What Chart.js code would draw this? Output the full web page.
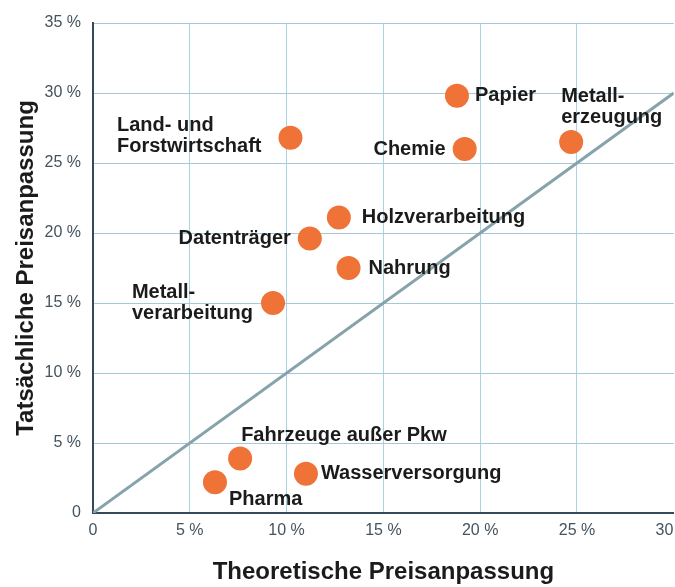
<!DOCTYPE html>
<html lang="de">
<head>
<meta charset="utf-8">
<script src="https://cdn.jsdelivr.net/npm/chart.js@4/dist/chart.umd.min.js"></script>
<style>
    html, body { margin: 0; padding: 0; background: #ffffff; }
    #rahmen { width: 675px; height: 587px; overflow: hidden; }
    #grafik { display: block; }
</style>
</head>
<body>
<div id="rahmen">
    <canvas id="grafik" width="700" height="587"></canvas>
</div>
<script>
// Branchen und Werte (in %)
const branchen = [
    'Papier',
    ['Metall-', 'erzeugung'],
    'Chemie',
    ['Land- und', 'Forstwirtschaft'],
    'Holzverarbeitung',
    'Datenträger',
    'Nahrung',
    ['Metall-', 'verarbeitung'],
    'Fahrzeuge außer Pkw',
    'Pharma',
    'Wasserversorgung'
];
const theoretisch = [18.8, 24.7, 19.2, 10.2, 12.7, 11.2, 13.2, 9.3, 7.6, 6.3, 11.0];
const tatsaechlich = [29.8, 26.5, 26.0, 26.8, 21.1, 19.6, 17.5, 15.0, 3.9, 2.2, 2.8];
const diagonale = [0, 30];

const xMax = 30;
const yMax = 35;
const schritt = 5;

// Lage der Beschriftung relativ zum Punkt
const labelLage = [
    { dx: 18, dy: 0, seite: 'rechts' },
    { dx: -10, dy: -46, seite: 'rechts' },
    { dx: -19, dy: 0, seite: 'links' },
    { dx: -29, dy: -12, seite: 'block' },
    { dx: 23, dy: 0, seite: 'rechts' },
    { dx: -19, dy: 0, seite: 'links' },
    { dx: 20, dy: 0, seite: 'rechts' },
    { dx: -20, dy: -11, seite: 'block' },
    { dx: 1, dy: -23, seite: 'rechts' },
    { dx: 14, dy: 17, seite: 'rechts' },
    { dx: 15, dy: 0, seite: 'rechts' }
];

const beschriftung = {
    id: 'beschriftung',
    afterDatasetsDraw(chart) {
        const ctx = chart.ctx;
        const meta = chart.getDatasetMeta(0);
        ctx.save();
        ctx.font = 'bold 20px "Liberation Sans", Arial, sans-serif';
        ctx.fillStyle = '#1b1b1b';
        ctx.textBaseline = 'middle';
        meta.data.forEach((p, i) => {
            const lage = labelLage[i];
            const zeilen = Array.isArray(branchen[i]) ? branchen[i] : [branchen[i]];
            let x = p.x + lage.dx;
            if (lage.seite === 'links') {
                ctx.textAlign = 'right';
            } else if (lage.seite === 'block') {
                const breite = Math.max(...zeilen.map(z => ctx.measureText(z).width));
                x = x - breite;
                ctx.textAlign = 'left';
            } else {
                ctx.textAlign = 'left';
            }
            zeilen.forEach((z, k) => {
                ctx.fillText(z, x, p.y + lage.dy + k * 21);
            });
        });
        ctx.restore();
    }
};

const prozent = v => v === 0 ? '0' : v + ' %';

new Chart(document.getElementById('grafik'), {
    data: {
        datasets: [{
            type: 'scatter',
            data: theoretisch.map((x, i) => ({ x: x, y: tatsaechlich[i] })),
            backgroundColor: '#ef7237',
            borderWidth: 0,
            pointRadius: 12,
            order: 1
        }, {
            type: 'line',
            data: diagonale.map(v => ({ x: v, y: v })),
            borderColor: '#86a2ab',
            borderWidth: 3,
            pointRadius: 0,
            order: 2
        }]
    },
    options: {
        responsive: false,
        animation: false,
        layout: {
            padding: { left: 0, right: 25, top: 23, bottom: 0 }
        },
        plugins: {
            legend: { display: false },
            tooltip: { enabled: false }
        },
        scales: {
            x: {
                type: 'linear',
                min: 0,
                max: xMax,
                afterFit(scale) { scale.height = 74; },
                ticks: {
                    stepSize: schritt,
                    padding: 8,
                    color: '#45535d',
                    font: { family: '"Liberation Sans", Arial, sans-serif', size: 16 },
                    callback: prozent
                },
                grid: {
                    color: c => c.tick && c.tick.value === xMax ? 'rgba(0,0,0,0)' : '#a9d3e4',
                    lineWidth: 1,
                    drawTicks: false
                },
                border: { color: '#34495a', width: 2 },
                title: {
                    display: true,
                    text: 'Theoretische Preisanpassung',
                    color: '#1b1b1b',
                    padding: { top: 1, bottom: 0 },
                    font: { family: '"Liberation Sans", Arial, sans-serif', size: 24, weight: 'bold' }
                }
            },
            y: {
                type: 'linear',
                min: 0,
                max: yMax,
                afterFit(scale) { scale.width = 93; },
                ticks: {
                    stepSize: schritt,
                    padding: 12,
                    color: '#45535d',
                    font: { family: '"Liberation Sans", Arial, sans-serif', size: 16 },
                    callback: prozent
                },
                grid: { color: '#a5c9d8', lineWidth: 1, drawTicks: false },
                border: { color: '#34495a', width: 2 },
                title: {
                    display: true,
                    text: 'Tatsächliche Preisanpassung',
                    color: '#1b1b1b',
                    padding: { top: 12, bottom: 0 },
                    font: { family: '"Liberation Sans", Arial, sans-serif', size: 24, weight: 'bold' }
                }
            }
        }
    },
    plugins: [beschriftung]
});
</script>
</body>
</html>
